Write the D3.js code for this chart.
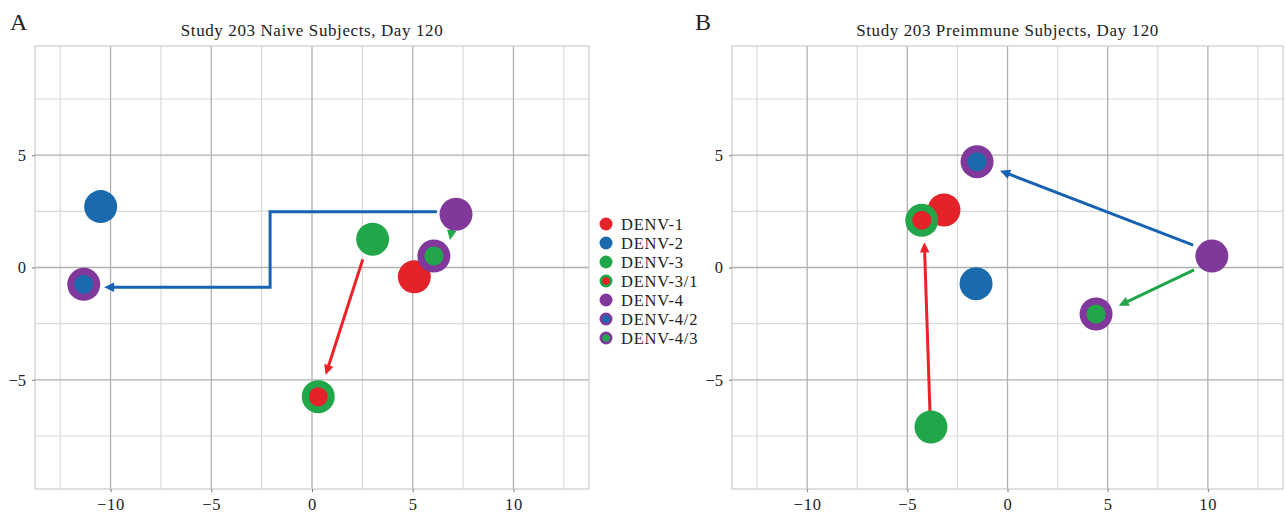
<!DOCTYPE html>
<html><head><meta charset="utf-8">
<script src="https://cdn.jsdelivr.net/npm/d3@7"></script>
<style>
body{margin:0;background:#fff;}
text{font-family:"Liberation Serif","Times New Roman",serif;fill:#222;}
</style>
</head><body>
<svg id="c" width="1285" height="517"></svg>
<script>
// ---- data ----
const legendLabels = ["DENV-1","DENV-2","DENV-3","DENV-3/1","DENV-4","DENV-4/2","DENV-4/3"];
const xTicks = [-10,-5,0,5,10];
const yTicks = [-5,0,5];
const xMinor = [-12.5,-7.5,-2.5,2.5,7.5,12.5];
const yMinor = [-7.5,-2.5,2.5,7.5];

const naiveTitle = "Study 203 Naive Subjects, Day 120";
const naiveLabels = ["DENV-1","DENV-2","DENV-4/2","DENV-3","DENV-4","DENV-4/3","DENV-3/1"];
const naiveX = [5.08,-10.49,-11.33,3.01,7.15,6.05,0.31];
const naiveY = [-0.41,2.71,-0.75,1.26,2.37,0.51,-5.75];
const naiveArrowTypes = ["DENV-2","DENV-1","DENV-3"];
const naiveArrowX = [[6.20,-2.08,-2.08,-10.32],[2.52,0.68],[6.95,6.85]];
const naiveArrowY = [[2.48,2.48,-0.88,-0.88],[0.36,-4.78],[1.71,1.22]];

const preTitle = "Study 203 Preimmune Subjects, Day 120";
const preLabels = ["DENV-1","DENV-3/1","DENV-4/2","DENV-2","DENV-4","DENV-4/3","DENV-3"];
const preX = [-3.17,-4.28,-1.52,-1.57,10.20,4.42,-3.82];
const preY = [2.56,2.10,4.71,-0.72,0.51,-2.07,-7.10];
const preArrowTypes = ["DENV-2","DENV-3","DENV-1"];
const preArrowX = [[9.27,-0.37],[9.31,5.55],[-3.87,-4.15]];
const preArrowY = [[1.00,4.31],[-0.11,-1.70],[-6.42,1.12]];

// ---- styles ----
const fillCol = {"DENV-1":"#e42229","DENV-2":"#1a6aad","DENV-3":"#21a64a","DENV-4":"#80399a"};
const arrowCol = {"DENV-1":"#ec2229","DENV-2":"#1862b4","DENV-3":"#21a64a"};
function markerColors(lbl){
  const p = lbl.split("/");
  if(p.length===1) return [fillCol[lbl], null];
  return [fillCol[p[0]], fillCol["DENV-"+p[1]]];
}

const svg = d3.select("#c");
const yScale = d3.scaleLinear().domain([-9.86,9.86]).range([489,46]);

const panels = [
  {letter:"A", letterX:10, title:naiveTitle, range:[35,589], labels:naiveLabels, xs:naiveX, ys:naiveY,
   aTypes:naiveArrowTypes, aX:naiveArrowX, aY:naiveArrowY},
  {letter:"B", letterX:695, title:preTitle, range:[732,1283], labels:preLabels, xs:preX, ys:preY,
   aTypes:preArrowTypes, aX:preArrowX, aY:preArrowY}
];

panels.forEach(p=>{
  const x = d3.scaleLinear().domain([-13.75,13.75]).range(p.range);
  const g = svg.append("g");
  const [x0,x1] = p.range; const [yb,yt] = yScale.range();
  // minor grid
  g.selectAll(null).data(xMinor).enter().append("line")
    .attr("x1",d=>x(d)).attr("x2",d=>x(d)).attr("y1",yt).attr("y2",yb)
    .attr("stroke","#dadada").attr("stroke-width",1.2);
  g.selectAll(null).data(yMinor).enter().append("line")
    .attr("y1",d=>yScale(d)).attr("y2",d=>yScale(d)).attr("x1",x0).attr("x2",x1)
    .attr("stroke","#dadada").attr("stroke-width",1.2);
  // major grid
  g.selectAll(null).data(xTicks).enter().append("line")
    .attr("x1",d=>x(d)).attr("x2",d=>x(d)).attr("y1",yt).attr("y2",yb)
    .attr("stroke","#b0b0b0").attr("stroke-width",1.3);
  g.selectAll(null).data(yTicks).enter().append("line")
    .attr("y1",d=>yScale(d)).attr("y2",d=>yScale(d)).attr("x1",x0).attr("x2",x1)
    .attr("stroke","#b0b0b0").attr("stroke-width",1.3);
  // border
  g.append("rect").attr("x",x0).attr("y",yt).attr("width",x1-x0).attr("height",yb-yt)
    .attr("fill","none").attr("stroke","#cccccc").attr("stroke-width",1.2);
  // axes
  const xa = g.append("g").attr("transform",`translate(0,${yb})`)
    .call(d3.axisBottom(x).tickValues(xTicks).tickSize(3).tickPadding(6));
  const ya = g.append("g").attr("transform",`translate(${x0},0)`)
    .call(d3.axisLeft(yScale).tickValues(yTicks).tickSize(3).tickPadding(6));
  [xa,ya].forEach(a=>{
    a.select(".domain").remove();
    a.selectAll(".tick line").attr("stroke","#777");
    a.selectAll("text").attr("font-size","16.5px").attr("fill","#333")
      .attr("font-family",'"Liberation Serif","Times New Roman",serif');
  });
  xa.selectAll("text").attr("letter-spacing","0.8px");
  // title & letter
  g.append("text").attr("x",(x0+x1)/2).attr("y",36).attr("text-anchor","middle")
    .attr("font-size","17px").attr("letter-spacing","0.6px").attr("fill","#1a1a1a").text(p.title);
  g.append("text").attr("x",p.letterX).attr("y",30).attr("font-size","24px").attr("fill","#1a1a1a").text(p.letter);
  // arrows
  const headLen = 10, headHalf = 4.8;
  p.aTypes.forEach((t,i)=>{
    const pts = p.aX[i].map((v,j)=>[x(v), yScale(p.aY[i][j])]);
    const n = pts.length;
    const [tx,ty] = pts[n-1], [sx,sy] = pts[n-2];
    const dx = tx-sx, dy = ty-sy, L = Math.hypot(dx,dy);
    const ux = dx/L, uy = dy/L;
    const bx = tx-ux*headLen, by = ty-uy*headLen;
    const linePts = pts.slice(0,n-1).concat([[bx+ux*1,by+uy*1]]);
    g.append("path").attr("d",d3.line()(linePts)).attr("fill","none")
      .attr("stroke",arrowCol[t]).attr("stroke-width",3);
    g.append("path").attr("d",d3.line()([[tx,ty],[bx-uy*headHalf,by+ux*headHalf],[bx+uy*headHalf,by-ux*headHalf]])+"Z")
      .attr("fill",arrowCol[t]);
  });
  // points
  p.labels.forEach((lbl,i)=>{
    const [outer,inner] = markerColors(lbl);
    const cx = x(p.xs[i]), cy = yScale(p.ys[i]);
    g.append("circle").attr("cx",cx).attr("cy",cy).attr("r",16.5).attr("fill",outer);
    if(inner) g.append("circle").attr("cx",cx).attr("cy",cy).attr("r",9.5).attr("fill",inner);
  });
});

// legend
const lg = svg.append("g");
legendLabels.forEach((lbl,i)=>{
  const cy = 224 + i*19;
  const [outer,inner] = markerColors(lbl);
  lg.append("circle").attr("cx",606).attr("cy",cy).attr("r",6.5).attr("fill",outer);
  if(inner) lg.append("circle").attr("cx",606).attr("cy",cy).attr("r",3.8).attr("fill",inner);
  lg.append("text").attr("x",621).attr("y",cy+5.5).attr("font-size","16.5px")
    .attr("letter-spacing","0.8px").attr("fill","#1a1a1a").text(lbl);
});
</script>
</body></html>
